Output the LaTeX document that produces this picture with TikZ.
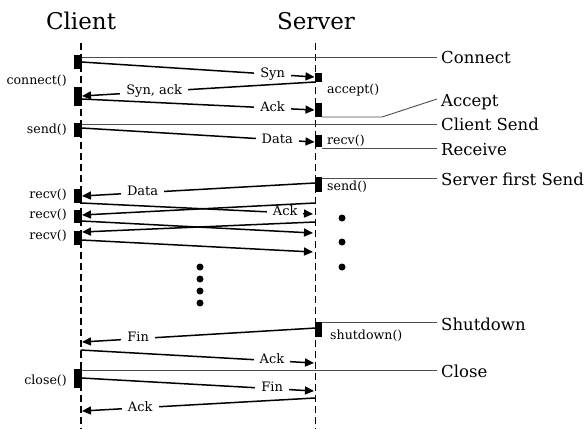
\documentclass[tikz,border=0pt]{standalone}
\usepackage{fontspec}
\setmainfont{DejaVu Serif}
\usetikzlibrary{arrows.meta}
\begin{document}
\begin{tikzpicture}[x=1pt,y=-1pt,
  life/.style={line width=1.6pt, dash pattern=on 7pt off 4pt},
  msg/.style={line width=1.5pt, -{Triangle[length=9pt,width=8pt]}},
  refl/.style={line width=0.9pt, draw=black!70},
  lbl/.style={fill=white, inner xsep=6pt, inner ysep=0.3pt, font=\fontsize{13}{13}\selectfont, text height=9pt, text depth=2.5pt},
  side/.style={font=\fontsize{12.6}{13}\selectfont, inner sep=0pt},
  big/.style={font=\fontsize{16.5}{17}\selectfont, anchor=base west, inner sep=0pt},
  ttl/.style={font=\fontsize{23}{24}\selectfont, anchor=base, inner sep=0pt},
  dotc/.style={circle, fill=black, inner sep=0pt, minimum size=7pt}
]
\useasboundingbox (0,0) rectangle (586,429);

% titles
\node[ttl] (tc) at (81,29) {Client};
\node[ttl] (ts) at (316,29) {Server};

% lifelines
\coordinate (ct) at (80.7,43); \coordinate (cb) at (80.7,429);
\coordinate (st) at (315.5,43); \coordinate (sb) at (315.5,429);
\draw[life] (ct) -- (cb);
\draw[life] (st) -- (sb);

% right-hand labels
\node[big] (lconn) at (441,63) {Connect};
\node[big] (lacc) at (441,106) {Accept};
\node[big] (lcs) at (441,130) {Client Send};
\node[big] (lrec) at (441,155) {Receive};
\node[big] (lsfs) at (441,185) {Server first Send};
\node[big] (lshut) at (441,330) {Shutdown};
\node[big] (lclose) at (441,377) {Close};

% reference lines
\coordinate (r1a) at (81,57);  \coordinate (r1b) at (437,57);
\coordinate (r2a) at (322,117); \coordinate (r2m) at (382,117); \coordinate (r2b) at (437,99);
\coordinate (r3a) at (81,124); \coordinate (r3b) at (437,124);
\coordinate (r4a) at (322,148); \coordinate (r4b) at (437,148);
\coordinate (r5a) at (322,178); \coordinate (r5b) at (437,178);
\coordinate (r6a) at (322,322); \coordinate (r6b) at (437,322);
\coordinate (r7a) at (81,370); \coordinate (r7b) at (437,370);
\draw[refl] (r1a) -- (r1b);
\draw[refl] (r2a) -- (r2m) -- (r2b);
\draw[refl] (r3a) -- (r3b);
\draw[refl] (r4a) -- (r4b);
\draw[refl] (r5a) -- (r5b);
\draw[refl] (r6a) -- (r6b);
\draw[refl] (r7a) -- (r7b);

% activation boxes
\foreach \ya/\yb in {55/69, 87/106, 123/137, 189/203, 210/223, 231/245, 369/388}
  \fill (74,\ya) rectangle (81.7,\yb);
\foreach \ya/\yb in {73/82, 103/117, 135/147, 177/192, 322/337}
  \fill (314.8,\ya) rectangle (322,\yb);

% side labels
\node[side, anchor=east] (lconnect) at (67,81) {connect()};
\node[side, anchor=east] (lsend) at (67,130) {send()};
\node[side, anchor=east] (lrecv1) at (67,195) {recv()};
\node[side, anchor=east] (lrecv2) at (67,215) {recv()};
\node[side, anchor=east] (lrecv3) at (67,236) {recv()};
\node[side, anchor=east] (lclosef) at (67,381) {close()};
\node[side, anchor=west] (laccept) at (327,90) {accept()};
\node[side, anchor=west] (lsrecv) at (327,141) {recv()};
\node[side, anchor=west] (lssend) at (327,187) {send()};
\node[side, anchor=west] (lshutf) at (330,336) {shutdown()};

% messages
\coordinate (m1a) at (81.5,62);  \coordinate (m1b) at (314.5,77);
\coordinate (m2a) at (315,82);   \coordinate (m2b) at (82,96);
\coordinate (m3a) at (81.5,99);  \coordinate (m3b) at (314.5,110);
\coordinate (m4a) at (81.5,128); \coordinate (m4b) at (314.5,142);
\coordinate (m5a) at (315,183);  \coordinate (m5b) at (82,196);
\coordinate (m6a) at (81.5,203); \coordinate (m6b) at (313,214);
\coordinate (m7a) at (315,203);  \coordinate (m7b) at (82,215);
\coordinate (m8a) at (81.5,221); \coordinate (m8b) at (313,233);
\coordinate (m9a) at (315,222);  \coordinate (m9b) at (82,232);
\coordinate (m10a) at (81.5,240); \coordinate (m10b) at (313,252);
\coordinate (m11a) at (316,328); \coordinate (m11b) at (82,342);
\coordinate (m12a) at (80.5,350); \coordinate (m12b) at (314,363);
\coordinate (m13a) at (81.5,378); \coordinate (m13b) at (314,391);
\coordinate (m14a) at (315,398); \coordinate (m14b) at (82,411);

\draw[msg] (m1a) -- node[lbl, pos=.82] (n1) {Syn} (m1b);
\draw[msg] (m2a) -- node[lbl, pos=.69] (n2) {Syn, ack} (m2b);
\draw[msg] (m3a) -- node[lbl, pos=.82] (n3) {Ack} (m3b);
\draw[msg] (m4a) -- node[lbl, pos=.84] (n4) {Data} (m4b);
\draw[msg] (m5a) -- node[lbl, pos=.74] (n5) {Data} (m5b);
\draw[msg] (m6a) -- node[lbl, pos=.88] (n6) {Ack} (m6b);
\draw[msg] (m7a) -- (m7b);
\draw[msg] (m8a) -- (m8b);
\draw[msg] (m9a) -- (m9b);
\draw[msg] (m10a) -- (m10b);
\draw[msg] (m11a) -- node[lbl, pos=.76] (n11) {Fin} (m11b);
\draw[msg] (m12a) -- node[lbl, pos=.82] (n12) {Ack} (m12b);
\draw[msg] (m13a) -- node[lbl, pos=.82] (n13) {Fin} (m13b);
\draw[msg] (m14a) -- node[lbl, pos=.75] (n14) {Ack} (m14b);

% dots
\node[dotc] (d1) at (342,218) {};
\node[dotc] (d2) at (342,242) {};
\node[dotc] (d3) at (342,267) {};
\node[dotc] (d4) at (200,267) {};
\node[dotc] (d5) at (200,279) {};
\node[dotc] (d6) at (200,291) {};
\node[dotc] (d7) at (200,303) {};
\end{tikzpicture}
\end{document}
